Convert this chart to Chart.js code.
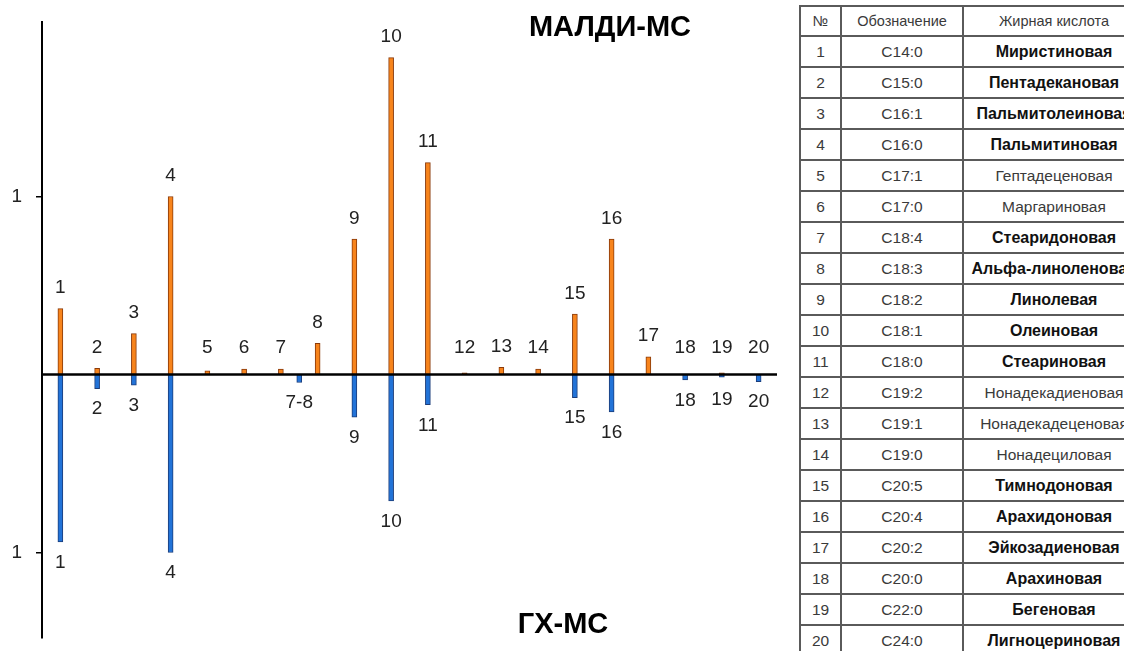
<!DOCTYPE html>
<html lang="ru">
<head>
<meta charset="utf-8">
<script src="https://cdn.jsdelivr.net/npm/chart.js@4/dist/chart.umd.min.js"></script>
<style>
  html, body { margin: 0; padding: 0; background: #fff; overflow: hidden; }
  body { width: 1124px; height: 651px; position: relative; font-family: "Liberation Sans", Arial, sans-serif; }
  #chart { position: absolute; left: 0; top: 0; }
  .ttl { position: absolute; font-weight: bold; font-size: 29px; color: #000; transform: translateX(-50%); white-space: nowrap; }
  #fa { position: absolute; left: 799px; top: 5px; border-collapse: collapse; font-size: 15.5px; color: #3a3a3a; table-layout: fixed; width: 345px; }
  #fa td, #fa th { border: 2px solid #5a5a5a; text-align: center; padding: 0; font-weight: normal; white-space: nowrap; overflow: visible; }
  #fa th { height: 28px; font-size: 14.5px; }
  #fa td { height: 29px; }
  #fa td.b { font-weight: bold; font-size: 16px; color: #111; }
</style>
</head>
<body>
<canvas id="chart" width="790" height="651"></canvas>
<div class="ttl" style="left:610px; top:10px;">МАЛДИ-МС</div>
<div class="ttl" style="left:563px; top:607px;">ГХ-МС</div>
<table id="fa"></table>
<script>
// relative content, normalised to C16:0 = 1
var peaks = [1, 2, 3, 4, 5, 6, 7, 8, 9, 10, 11, 12, 13, 14, 15, 16, 17, 18, 19, 20];
var maldi = [0.37, 0.035, 0.23, 1.0, 0.02, 0.03, 0.03, 0.175, 0.76, 1.78, 1.19, 0.01, 0.04, 0.03, 0.34, 0.76, 0.10, 0, 0.01, 0];

var gcPos = [1, 2, 3, 4, 7.5, 9, 10, 11, 15, 16, 18, 19, 20];
var gcLabels = ['1', '2', '3', '4', '7-8', '9', '10', '11', '15', '16', '18', '19', '20'];
var gcms = [0.94, 0.08, 0.06, 1.0, 0.045, 0.24, 0.71, 0.17, 0.13, 0.21, 0.03, 0.015, 0.04];

var yTicks = [-1, 1];

var codes = ['C14:0', 'C15:0', 'C16:1', 'C16:0', 'C17:1', 'C17:0', 'C18:4', 'C18:3', 'C18:2', 'C18:1',
  'C18:0', 'C19:2', 'C19:1', 'C19:0', 'C20:5', 'C20:4', 'C20:2', 'C20:0', 'C22:0', 'C24:0'];
var names = ['Миристиновая', 'Пентадекановая', 'Пальмитолеиновая', 'Пальмитиновая', 'Гептадеценовая',
  'Маргариновая', 'Стеаридоновая', 'Альфа-линоленовая', 'Линолевая', 'Олеиновая', 'Стеариновая',
  'Нонадекадиеновая', 'Нонадекадеценовая', 'Нонадециловая', 'Тимнодоновая', 'Арахидоновая',
  'Эйкозадиеновая', 'Арахиновая', 'Бегеновая', 'Лигноцериновая'];
var bold = [1, 1, 1, 1, 0, 0, 1, 1, 1, 1, 1, 0, 0, 0, 1, 1, 1, 1, 1, 1];

// table of acids
var tbl = document.getElementById('fa');
var html = '<colgroup><col style="width:41px"><col style="width:122px"><col style="width:182px"></colgroup>';
html += '<tr><th>№</th><th>Обозначение</th><th>Жирная кислота</th></tr>';
for (var i = 0; i < peaks.length; i++) {
  html += '<tr><td>' + peaks[i] + '</td><td>' + codes[i] + '</td><td' + (bold[i] ? ' class="b"' : '') + '>' + names[i] + '</td></tr>';
}
tbl.innerHTML = html;

var numberLabels = {
  id: 'numberLabels',
  afterDatasetsDraw: function(chart) {
    var ctx = chart.ctx, xs = chart.scales.x, ys = chart.scales.y;
    var y0 = ys.getPixelForValue(0);
    ctx.save();
    // zero line
    ctx.strokeStyle = '#000';
    ctx.lineWidth = 2.5;
    ctx.beginPath();
    ctx.moveTo(chart.chartArea.left, y0);
    ctx.lineTo(chart.chartArea.right, y0);
    ctx.stroke();

    ctx.font = '19px "Liberation Sans", Arial, sans-serif';
    ctx.fillStyle = '#222';
    ctx.textAlign = 'center';
    ctx.textBaseline = 'bottom';
    peaks.forEach(function(p, i) {
      var top = Math.min(ys.getPixelForValue(maldi[i]), y0 - 6);
      ctx.fillText(String(p), xs.getPixelForValue(p), top - 11);
    });
    ctx.textBaseline = 'top';
    gcPos.forEach(function(p, i) {
      var bot = Math.max(ys.getPixelForValue(-gcms[i]), y0 + 5);
      ctx.fillText(gcLabels[i], xs.getPixelForValue(p), bot + 11);
    });
    ctx.restore();
  }
};

new Chart(document.getElementById('chart'), {
  type: 'bar',
  data: {
    datasets: [{
      label: 'МАЛДИ-МС',
      data: peaks.map(function(p, i) { return { x: p, y: maldi[i] }; }),
      backgroundColor: '#f7841c',
      borderColor: '#8a3a0a',
      borderWidth: 1,
      barThickness: 5,
      grouped: false
    }, {
      label: 'ГХ-МС',
      data: gcPos.map(function(p, i) { return { x: p, y: -gcms[i] }; }),
      backgroundColor: '#2273d8',
      borderColor: '#1b3d7a',
      borderWidth: 1,
      barThickness: 5,
      grouped: false
    }]
  },
  options: {
    responsive: false,
    devicePixelRatio: 1,
    animation: false,
    layout: { padding: { top: 22, bottom: 13, right: 13, left: 0 } },
    plugins: { legend: { display: false }, tooltip: { enabled: false } },
    scales: {
      x: { type: 'linear', min: 0.5, max: 20.5, offset: false, display: false },
      y: {
        min: -1.48, max: 1.98,
        afterBuildTicks: function(s) { s.ticks = yTicks.map(function(v) { return { value: v }; }); },
        afterFit: function(s) { s.width = 42; s.paddingTop = 0; s.paddingBottom = 0; },
        ticks: {
          padding: 14,
          color: '#222',
          font: { size: 19, family: '"Liberation Sans", Arial, sans-serif' },
          callback: function(v) { return Math.abs(v); }
        },
        grid: { drawOnChartArea: false, color: '#000', tickLength: 6, lineWidth: 1.5 },
        border: { color: '#000', width: 2 }
      }
    }
  },
  plugins: [numberLabels]
});
</script>
</body>
</html>
